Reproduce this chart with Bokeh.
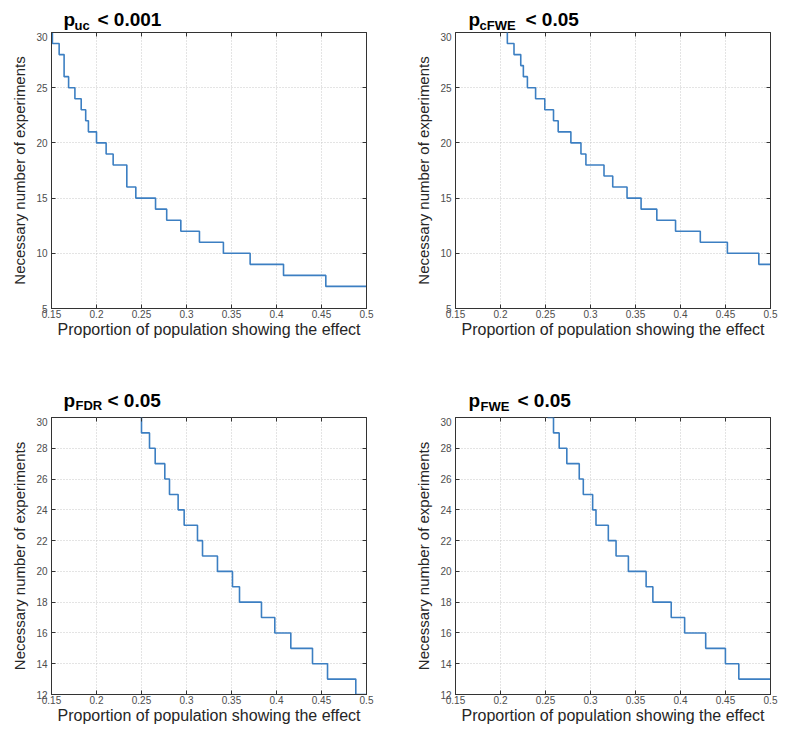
import math
from bokeh.plotting import figure
from bokeh.layouts import gridplot
from bokeh.models import FixedTicker, LinearAxis, Range1d
from bokeh.core.properties import value
from bokeh.embed import file_html
from bokeh.resources import INLINE

# ---- data ----
x_ticks = [0.15, 0.2, 0.25, 0.3, 0.35, 0.4, 0.45, 0.5]
x_tick_labels = ["0.15", "0.2", "0.25", "0.3", "0.35", "0.4", "0.45", "0.5"]
y_ticks_top = [5, 10, 15, 20, 25, 30]
y_ticks_bottom = [12, 14, 16, 18, 20, 22, 24, 26, 28, 30]

title_p = ["p", "p", "p", "p"]
title_sub = ["uc", "cFWE", "FDR", "FWE"]
title_rest = ["< 0.001", "< 0.05", "< 0.05", "< 0.05"]

# p_uc < 0.001
x_uc = [0.150, 0.151, 0.1585, 0.164, 0.169, 0.176, 0.183, 0.188, 0.191, 0.200, 0.2107,
        0.2185, 0.2337, 0.2437, 0.2656, 0.278, 0.2937, 0.3144, 0.341, 0.3707, 0.4078,
        0.4548, 0.5]
n_uc = [30, 29, 28, 26, 25, 24, 23, 22, 21, 20, 19, 18, 16, 15, 14, 13, 12, 11, 10, 9, 8, 7, 7]

# p_cFWE < 0.05
x_cfwe = [0.2070, 0.2076, 0.215, 0.2225, 0.2254, 0.2299, 0.239, 0.2492, 0.2589, 0.2641,
          0.2782, 0.2894, 0.2949, 0.315, 0.3247, 0.3406, 0.3562, 0.3737, 0.3945, 0.422,
          0.4521, 0.487, 0.5]
n_cfwe = [30, 29, 28, 27, 26, 25, 24, 23, 22, 21, 20, 19, 18, 17, 16, 15, 14, 13, 12, 11, 10, 9, 9]

# p_FDR < 0.05
x_fdr = [0.249, 0.25, 0.2589, 0.2652, 0.2759, 0.2811, 0.2907, 0.2974, 0.3122, 0.3178,
         0.3344, 0.3511, 0.3589, 0.3833, 0.3981, 0.4159, 0.44, 0.4567, 0.4881, 0.5]
n_fdr = [30, 29, 28, 27, 26, 25, 24, 23, 22, 21, 20, 19, 18, 17, 16, 15, 14, 13, 12, 12]

# p_FWE < 0.05
x_fwe = [0.2522, 0.2589, 0.2652, 0.2737, 0.2875, 0.292, 0.3024, 0.3061, 0.3198, 0.3284,
         0.3421, 0.3618, 0.3693, 0.3897, 0.4046, 0.428, 0.4499, 0.4648, 0.5]
n_fwe = [30, 29, 28, 27, 26, 25, 24, 23, 22, 21, 20, 19, 18, 17, 16, 15, 14, 13, 13]

FONT = "Liberation Sans"
LINE = "#3c7fc2"
TXT = "#262626"
TICK = "#4d4d4d"
BOX = "#333333"

FW = 315
TITLE_H = 32


def make_title(i, left, right, offs, y_main, y_sub):
    # gridplot aligns this frame with the panel frame below it, so x is
    # measured in pixels from the panel frame's left edge
    t = figure(width=left + FW + right, height=TITLE_H,
               x_range=Range1d(0, FW), y_range=Range1d(0, TITLE_H),
               x_axis_location=None, y_axis_location=None,
               output_backend="svg", toolbar_location=None,
               min_border=0, min_border_left=left, min_border_right=right,
               outline_line_color=None,
               background_fill_color="white", border_fill_color="white")
    t.grid.visible = False
    t.text(x=[offs[0]], y=[y_main], text=[title_p[i]],
           text_font=value(FONT), text_font_style="bold", text_font_size="19px",
           text_color="black", text_baseline="middle")
    t.text(x=[offs[1]], y=[y_sub], text=[title_sub[i]],
           text_font=value(FONT), text_font_style="bold", text_font_size="13px",
           text_color="black", text_baseline="middle")
    t.text(x=[offs[2]], y=[y_main], text=[title_rest[i]],
           text_font=value(FONT), text_font_style="bold", text_font_size="19px",
           text_color="black", text_baseline="middle")
    return t


def make_panel(xs, ys, y_lo, y_hi, y_ticks, fh, left, right, bottom):
    p = figure(frame_width=FW, frame_height=fh,
               x_range=Range1d(0.15, 0.5), y_range=Range1d(y_lo, y_hi),
               output_backend="svg", toolbar_location=None,
               min_border_left=left, min_border_right=right,
               min_border_top=0, min_border_bottom=bottom,
               background_fill_color="white", border_fill_color="white",
               outline_line_color=BOX, outline_line_width=1)
    p.step(xs, ys, mode="after", line_color=LINE, line_width=1.6)

    # inward tick marks on the top edge (outer half is clipped by the frame)
    p.scatter(x=x_ticks, y=[y_hi] * len(x_ticks), marker="dash", angle=math.pi / 2,
              size=8, line_color=BOX, line_width=1)

    xt = {t: l for t, l in zip(x_ticks, x_tick_labels)}
    for ax in p.xaxis:
        ax.ticker = FixedTicker(ticks=x_ticks)
        ax.major_label_overrides = xt
        ax.axis_label = "Proportion of population showing the effect"
        ax.axis_label_text_font_size = "16px"
        ax.axis_label_standoff = 0
        ax.major_label_standoff = 1
    for ax in p.yaxis:
        ax.ticker = FixedTicker(ticks=y_ticks)
        ax.axis_label = "Necessary number of experiments"
        ax.axis_label_text_font_size = "15px"
        ax.axis_label_standoff = 5
        ax.major_label_standoff = 4
    for ax in p.axis:
        ax.axis_label_text_font = FONT
        ax.axis_label_text_font_style = "normal"
        ax.axis_label_text_color = TXT
        ax.major_label_text_font = FONT
        ax.major_label_text_font_size = "10px"
        ax.major_label_text_color = TICK
        ax.major_tick_in = 4
        ax.major_tick_out = 0
        ax.minor_tick_line_color = None
        ax.axis_line_color = BOX
        ax.major_tick_line_color = BOX

    # MATLAB-style box ticks on the right edge (no labels)
    right_ax = LinearAxis(ticker=FixedTicker(ticks=y_ticks),
                          major_label_overrides={t: "" for t in y_ticks},
                          major_tick_in=4, major_tick_out=0, minor_tick_line_color=None,
                          axis_line_color=BOX, major_tick_line_color=BOX,
                          major_label_standoff=0)
    p.add_layout(right_ax, "right")

    p.xgrid.ticker = FixedTicker(ticks=x_ticks)
    p.ygrid.ticker = FixedTicker(ticks=y_ticks)
    for g in (p.xgrid[0], p.ygrid[0]):
        g.grid_line_color = "#c8c8c8"
        g.grid_line_dash = "1 2"
        g.grid_line_width = 1
    return p


# left column: frame at x 51..366, right column: frame at x 463..778
t1 = make_title(0, 51, 46, (12, 23, 46), 13, 7.5)
t2 = make_title(1, 43, 15, (13, 24, 70), 13, 7.5)
p1 = make_panel(x_uc, n_uc, 5, 30, y_ticks_top, 276, 51, 46, 77)
p2 = make_panel(x_cfwe, n_cfwe, 5, 30, y_ticks_top, 276, 43, 15, 77)
t3 = make_title(2, 51, 46, (12, 24, 56), 17, 12.5)
t4 = make_title(3, 43, 15, (13, 25, 62), 17, 11)
p3 = make_panel(x_fdr, n_fdr, 12, 30, y_ticks_bottom, 277, 51, 46, 33)
p4 = make_panel(x_fwe, n_fwe, 12, 30, y_ticks_bottom, 277, 43, 15, 33)

grid = gridplot([[t1, t2], [p1, p2], [t3, t4], [p3, p4]], toolbar_location=None)

open("out.html", "w").write(file_html(grid, INLINE))
